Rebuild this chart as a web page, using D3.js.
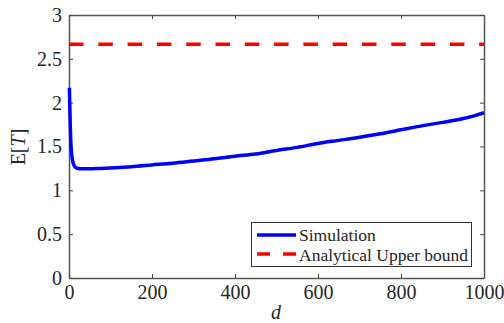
<!DOCTYPE html>
<html><head><meta charset="utf-8">
<script src="https://cdn.jsdelivr.net/npm/d3@7"></script>
<style>body{margin:0;background:#fff}svg{display:block}svg text{font-family:"Liberation Serif","Times New Roman",Times,"DejaVu Serif","Noto Serif",serif !important;fill:#262626}</style>
</head><body><svg id="c" width="504" height="323"></svg>
<script>
const dVals = [1,2,3,4,5,6,8,10,12,15,20,30,50,75,100,150,200,250,300,350,400,450,500,550,600,650,700,750,800,850,900,950,980,1000];
const simVals = [2.17,1.95,1.75,1.6,1.5,1.43,1.36,1.31,1.285,1.265,1.252,1.245,1.245,1.25,1.255,1.27,1.29,1.31,1.335,1.36,1.39,1.415,1.455,1.49,1.535,1.57,1.605,1.645,1.69,1.735,1.775,1.82,1.855,1.885];
const boundValue = 8/3;
const xTicks = [0,200,400,600,800,1000];
const yTicks = [0,0.5,1,1.5,2,2.5,3];
const legendLabels = ["Simulation","Analytical Upper bound"];

const svg = d3.select("#c");
const L=69,R=484,T=15,B=278;
const x = d3.scaleLinear().domain([0,1000]).range([L,R]);
const y = d3.scaleLinear().domain([0,3]).range([B,T]);

const gx = svg.append("g").attr("transform",`translate(0,${B})`)
  .call(d3.axisBottom(x).tickValues(xTicks).tickSizeInner(-4).tickSizeOuter(0).tickPadding(7).tickFormat(d3.format("d")));
const gxt = svg.append("g").attr("transform",`translate(0,${T})`)
  .call(d3.axisTop(x).tickValues(xTicks).tickSizeInner(-4).tickSizeOuter(0).tickFormat(""));
const gy = svg.append("g").attr("transform",`translate(${L},0)`)
  .call(d3.axisLeft(y).tickValues(yTicks).tickSizeInner(-4).tickSizeOuter(0).tickPadding(7).tickFormat(d=>d));
const gyr = svg.append("g").attr("transform",`translate(${R},0)`)
  .call(d3.axisRight(y).tickValues(yTicks).tickSizeInner(-4).tickSizeOuter(0).tickFormat(""));
[gx,gxt,gy,gyr].forEach(g=>{
  g.attr("font-family",null);
  g.selectAll("path").attr("stroke","#555").attr("stroke-width",1.5);
  g.selectAll("line").attr("stroke","#444");
  g.selectAll("text").attr("font-size",20).attr("fill","#262626");
});
gx.selectAll("text").attr("dy","0.71em");

svg.append("line").attr("x1",x(0)).attr("x2",x(1000)).attr("y1",y(boundValue)).attr("y2",y(boundValue))
  .attr("stroke","#ff0000").attr("stroke-width",3.5).attr("stroke-dasharray","14.5,14.8");

const line = d3.line().x((d,i)=>x(dVals[i])).y(d=>y(d)).curve(d3.curveMonotoneX);
svg.append("path").datum(simVals).attr("d",line).attr("fill","none")
  .attr("stroke","#0000ff").attr("stroke-width",3.5).attr("stroke-linejoin","round");

svg.append("text").attr("x",276).attr("y",319).attr("text-anchor","middle")
  .attr("font-size",20).attr("font-style","italic").text("d");
const yl = svg.append("text").attr("transform","translate(25,147) rotate(-90)").attr("text-anchor","middle").attr("font-size",20);
yl.append("tspan").text("E[");
yl.append("tspan").attr("font-style","italic").text("T");
yl.append("tspan").text("]");

const lg = svg.append("g");
lg.append("rect").attr("x",251.5).attr("y",222.5).attr("width",220).attr("height",44)
  .attr("fill","#fff").attr("stroke","#333").attr("stroke-width",1);
lg.append("line").attr("x1",257).attr("x2",296).attr("y1",235).attr("y2",235)
  .attr("stroke","#0000ff").attr("stroke-width",3.5);
lg.append("line").attr("x1",257).attr("x2",296).attr("y1",254).attr("y2",254)
  .attr("stroke","#ff0000").attr("stroke-width",3.5).attr("stroke-dasharray","13,13");
lg.append("text").attr("x",299).attr("y",241).attr("font-size",17.5).text(legendLabels[0]);
lg.append("text").attr("x",299).attr("y",261).attr("font-size",17.5).text(legendLabels[1]);
</script></body></html>
